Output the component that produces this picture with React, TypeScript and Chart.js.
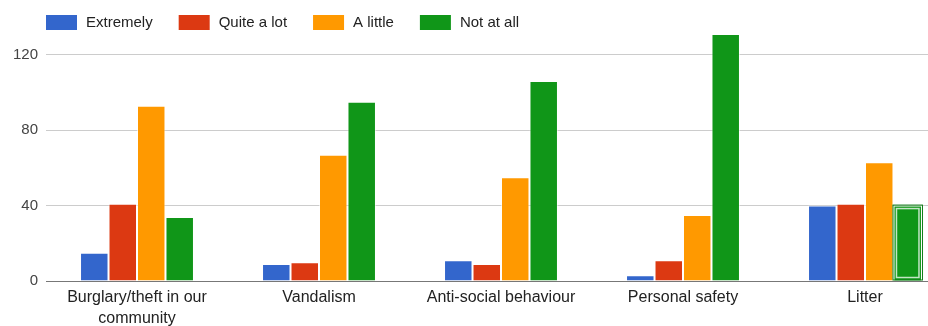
import React, { useEffect, useRef } from "react";
import { Chart, registerables } from "chart.js";

Chart.register(...registerables);

const categories: (string | string[])[] = [
  ["Burglary/theft in our", "community"],
  "Vandalism",
  "Anti-social behaviour",
  "Personal safety",
  "Litter",
];
const extremely = [15, 9, 11, 3, 40];
const quiteALot = [41, 10, 9, 11, 41];
const aLittle = [93, 67, 55, 35, 63];
const notAtAll = [34, 95, 106, 131, 40];
const yTicks = [0, 40, 80, 120];

const seriesNames = ["Extremely", "Quite a lot", "A little", "Not at all"];
const seriesColors = ["#3366cc", "#dc3912", "#ff9900", "#109618"];

const FONT = '"Liberation Sans", Arial, sans-serif';

const legendPlugin = {
  id: "customLegend",
  afterDraw(chart: any) {
    const ctx = chart.ctx;
    ctx.save();
    ctx.font = `15px ${FONT}`;
    ctx.textBaseline = "middle";
    let x = 46;
    const y = 22.5;
    chart.data.datasets.forEach((ds: any) => {
      ctx.fillStyle = ds.backgroundColor;
      ctx.fillRect(x, y - 7.5, 31, 15);
      ctx.fillStyle = "#222";
      ctx.fillText(ds.label, x + 40, y);
      x += 40 + ctx.measureText(ds.label).width + 26;
    });
    ctx.restore();
  },
};

// highlighted (hovered) bar: Litter / Not at all
const highlightPlugin = {
  id: "highlight",
  afterDatasetsDraw(chart: any) {
    const meta = chart.getDatasetMeta(3);
    const el = meta.data[4];
    if (!el) return;
    const { x, y, base, width } = el.getProps(["x", "y", "base", "width"], true);
    const ctx = chart.ctx;
    ctx.save();
    ctx.strokeStyle = "#0c7a13";
    ctx.lineWidth = 1;
    ctx.strokeRect(x - width / 2 - 0.5, y - 0.5, width + 1, base - y);
    ctx.strokeStyle = "rgba(255,255,255,0.75)";
    ctx.lineWidth = 1.5;
    ctx.strokeRect(x - width / 2 + 3, y + 3, width - 6, base - y - 6);
    ctx.restore();
  },
};

export default function App() {
  const ref = useRef<HTMLCanvasElement>(null);

  useEffect(() => {
    if (!ref.current) return;
    const data = [extremely, quiteALot, aLittle, notAtAll];
    const chart = new Chart(ref.current, {
      type: "bar",
      data: {
        labels: categories,
        datasets: data.map((d, i) => ({
          label: seriesNames[i],
          data: d,
          backgroundColor: seriesColors[i],
          borderColor: "rgba(255,255,255,0.55)",
          borderWidth: 1,
          borderSkipped: "bottom",
          categoryPercentage: 0.626,
          barPercentage: 1,
        })),
      },
      options: {
        animation: false,
        responsive: false,
        maintainAspectRatio: false,
        events: [],
        layout: { padding: { top: 15, right: 4, left: 0, bottom: 0 } },
        plugins: {
          legend: { display: false },
          tooltip: { enabled: false },
        },
        scales: {
          x: {
            grid: { display: false, drawTicks: false },
            border: { display: true, color: "#777", width: 1 },
            ticks: {
              color: "#222",
              font: { family: FONT, size: 16, lineHeight: 1.3 },
              padding: 6,
              maxRotation: 0,
              autoSkip: false,
            },
            afterFit(scale: any) {
              scale.height = 45;
            },
          },
          y: {
            min: 0,
            max: 140,
            grid: {
              drawTicks: false,
              color: (c: any) => (c.tick && c.tick.value === 0 ? "#777" : "#ccc"),
              lineWidth: 1,
            },
            border: { display: false },
            ticks: {
              color: "#444",
              font: { family: FONT, size: 15 },
              padding: 8,
            },
            afterBuildTicks(scale: any) {
              scale.ticks = yTicks.map((v) => ({ value: v }));
            },
            afterFit(scale: any) {
              scale.width = 46;
            },
          },
        },
      },
      plugins: [legendPlugin, highlightPlugin],
    });
    return () => chart.destroy();
  }, []);

  return (
    <div
      style={{
        position: "fixed",
        left: 0,
        top: 0,
        width: 928,
        height: 326,
        overflow: "hidden",
        background: "#fff",
      }}
    >
      <canvas ref={ref} width={960} height={326} style={{ display: "block" }} />
    </div>
  );
}
